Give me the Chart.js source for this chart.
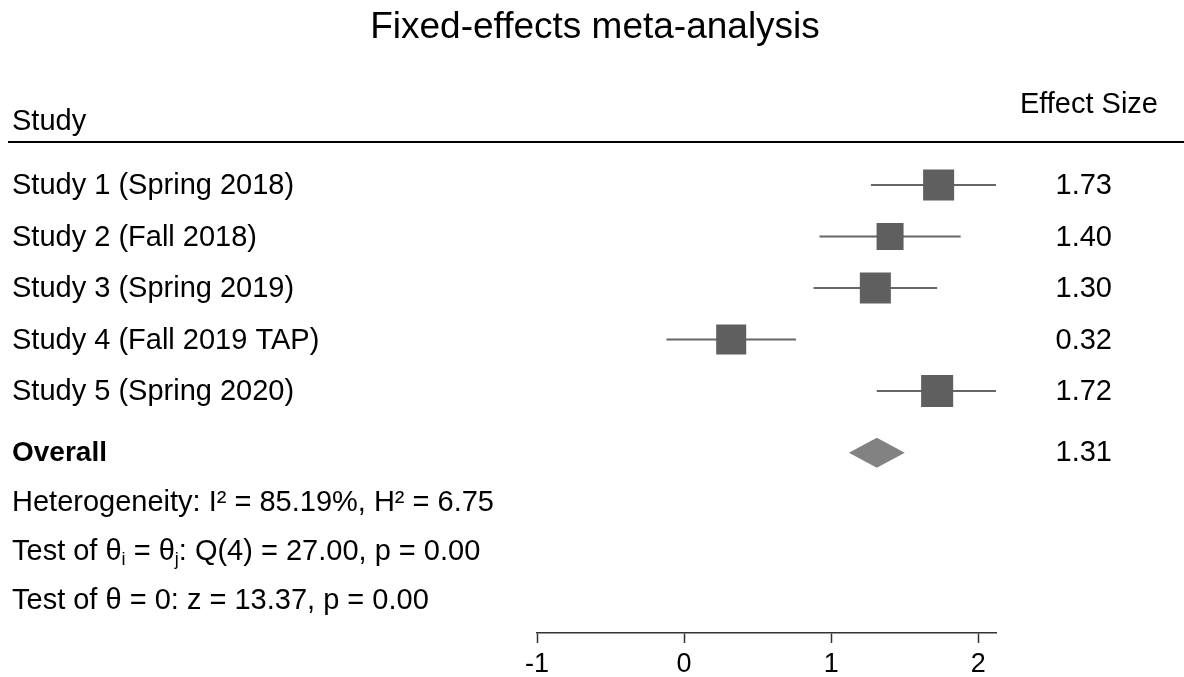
<!DOCTYPE html>
<html>
<head>
<meta charset="utf-8">
<script src="https://cdn.jsdelivr.net/npm/chart.js@4.4.1/dist/chart.umd.min.js"></script>
<style>
  html, body { margin: 0; padding: 0; background: #fff; }
  #wrap { width: 1184px; height: 677px; position: relative; }
</style>
</head>
<body>
<div id="wrap"><canvas id="forestChart"></canvas></div>
<script>
// data
const studies = ['Study 1 (Spring 2018)', 'Study 2 (Fall 2018)', 'Study 3 (Spring 2019)', 'Study 4 (Fall 2019 TAP)', 'Study 5 (Spring 2020)'];
const effects = [1.73, 1.40, 1.30, 0.32, 1.72];
const ciLow = [1.27, 0.92, 0.88, -0.12, 1.31];
const ciHigh = [2.19, 1.88, 1.72, 0.76, 2.13];
const weights = [21.0, 15.9, 21.0, 19.7, 22.4];   // % weight -> square area
const overallEffect = 1.31;
const overallLow = 1.12;
const overallHigh = 1.50;
const xTicks = [-1, 0, 1, 2];

const FONT = '"Liberation Sans", Arial, Helvetica, sans-serif';
Chart.defaults.font.family = FONT;

// row positions on the hidden y scale
const overallRow = 5.2;
const statRows = [6.18, 7.12, 8.07];

// statistics lines, sub = subscript
const statLines = [
    [['Heterogeneity: I\u00b2 = 85.19%, H\u00b2 = 6.75']],
    [['Test of \u03b8'], ['i', 'sub'], [' = \u03b8'], ['j', 'sub'], [': Q(4) = 27.00, p = 0.00']],
    [['Test of \u03b8 = 0: z = 13.37, p = 0.00']]
];

const tablePlugin = {
    id: 'table',
    afterDraw(chart) {
        const ctx = chart.ctx;
        const y = chart.scales.y;
        ctx.save();
        ctx.fillStyle = '#000';
        ctx.textBaseline = 'middle';

        // title
        ctx.font = '37px ' + FONT;
        ctx.textAlign = 'center';
        ctx.fillText('Fixed-effects meta-analysis', 595, 28);

        ctx.font = '29px ' + FONT;
        // header
        ctx.textAlign = 'left';
        ctx.fillText('Study', 12, 122);
        ctx.textAlign = 'right';
        ctx.fillText('Effect Size', 1158, 105);
        ctx.fillRect(8, 141, 1176, 2);

        // study rows
        studies.forEach((s, i) => {
            const py = y.getPixelForValue(i) + 1.5;
            ctx.textAlign = 'left';
            ctx.fillText(s, 12, py);
            ctx.textAlign = 'right';
            ctx.fillText(effects[i].toFixed(2), 1112, py);
        });

        // overall
        const oy = y.getPixelForValue(overallRow) + 0.5;
        ctx.textAlign = 'right';
        ctx.fillText(overallEffect.toFixed(2), 1112, oy);
        ctx.textAlign = 'left';
        ctx.font = 'bold 28px ' + FONT;
        ctx.fillText('Overall', 12, oy);

        // stats
        statLines.forEach((segs, k) => {
            const py = y.getPixelForValue(statRows[k]);
            let x = 12;
            segs.forEach(seg => {
                if (seg[1] === 'sub') {
                    ctx.font = '18px ' + FONT;
                    ctx.fillText(seg[0], x, py + 8);
                } else {
                    ctx.font = '29px ' + FONT;
                    ctx.fillText(seg[0], x, py);
                }
                x += ctx.measureText(seg[0]).width;
            });
        });
        ctx.restore();
    }
};

const halfH = 0.29; // diamond half height in row units

const datasets = [{
    label: 'Studies',
    data: effects.map((e, i) => ({ x: e, y: i })),
    pointStyle: 'rect',
    pointRadius: weights.map(w => Math.sqrt(w) * 6.77 / Math.SQRT2),
    pointHoverRadius: weights.map(w => Math.sqrt(w) * 6.77 / Math.SQRT2),
    backgroundColor: '#5f5f5f',
    borderWidth: 0,
    showLine: false
}, {
    label: 'Overall',
    data: [
        { x: overallLow, y: overallRow },
        { x: overallEffect, y: overallRow - halfH },
        { x: overallHigh, y: overallRow },
        { x: overallEffect, y: overallRow + halfH },
        { x: overallLow, y: overallRow }
    ],
    showLine: true,
    fill: 'shape',
    backgroundColor: '#828282',
    borderColor: '#828282',
    borderWidth: 0,
    pointRadius: 0,
    tension: 0
}];

studies.forEach((s, i) => {
    datasets.push({
        label: s + ' CI',
        data: [{ x: ciLow[i], y: i }, { x: ciHigh[i], y: i }],
        showLine: true,
        borderColor: '#666666',
        borderWidth: 2,
        pointRadius: 0,
        fill: false
    });
});

const ctx = document.getElementById('forestChart').getContext('2d');

new Chart(ctx, {
    type: 'scatter',
    data: { datasets: datasets },
    options: {
        responsive: true,
        maintainAspectRatio: false,
        animation: false,
        layout: {
            padding: { left: 537, right: 188, top: 159.25, bottom: 0 }
        },
        plugins: {
            legend: { display: false },
            tooltip: { enabled: false },
            title: { display: false }
        },
        scales: {
            x: {
                type: 'linear',
                min: -1,
                max: 2.12,
                afterBuildTicks: (scale) => {
                    scale.ticks = xTicks.map(v => ({ value: v }));
                },
                afterFit: (scale) => { scale.height = 44; },
                ticks: {
                    color: '#000',
                    font: { size: 27 },
                    padding: 5,
                    maxRotation: 0
                },
                grid: {
                    drawOnChartArea: false,
                    drawTicks: true,
                    tickLength: 10,
                    tickWidth: 1.5,
                    tickColor: '#333'
                },
                border: { display: true, color: '#333', width: 1.5 }
            },
            y: {
                type: 'linear',
                display: false,
                reverse: true,
                min: -0.5,
                max: 8.7
            }
        }
    },
    plugins: [tablePlugin]
});
</script>
</body>
</html>
